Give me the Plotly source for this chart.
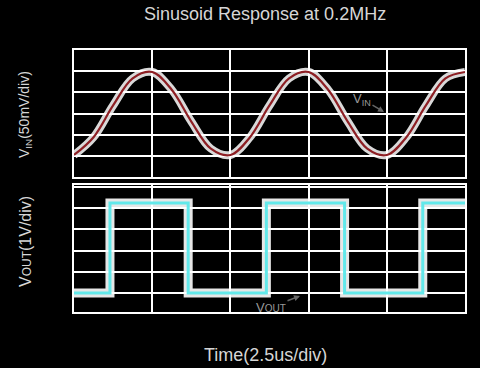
import plotly.graph_objects as go

# Data
t_in = [0, 0.625, 1.25, 1.875, 2.5, 3.125, 3.75, 4.375, 5, 5.625, 6.25, 6.875,
        7.5, 8.125, 8.75, 9.375, 10, 10.625, 11.25, 11.875, 12.5]
v_in = [-98, -56, 19, 83, 98, 56, -19, -83, -98, -56, 19, 83,
        98, 56, -19, -83, -98, -56, 19, 83, 98]  # mV

t_out = [0, 1.15, 3.65, 6.15, 8.65, 11.15, 12.5]
v_out = [0, 4.25, 0, 4.25, 0, 4.25, 4.25]  # V

title = "Sinusoid Response at 0.2MHz"
xlabel = "Time(2.5us/div)"
ylabel_top = "V<sub>IN</sub>(50mV/div)"
ylabel_bot = "V<span style='font-size:12px'>OUT</span>(1V/div)"

W, H = 480, 368
def px(x): return x / W
def py(y): return 1 - y / H

FAM = "Liberation Sans, Arial"
TXT = "#d6d6d6"

fig = go.Figure()
fig.add_trace(go.Scatter(x=t_in, y=v_in, mode="lines", line=dict(color="rgba(255,255,255,0.85)", width=8, shape="spline"),
                         xaxis="x", yaxis="y", hoverinfo="skip", showlegend=False))
fig.add_trace(go.Scatter(x=t_in, y=v_in, mode="lines", line=dict(color="#8e1f24", width=2.2, shape="spline"),
                         xaxis="x", yaxis="y", showlegend=False))
fig.add_trace(go.Scatter(x=t_out, y=v_out, mode="lines", line=dict(color="rgba(255,255,255,0.9)", width=9, shape="hv"),
                         xaxis="x2", yaxis="y2", hoverinfo="skip", showlegend=False))
fig.add_trace(go.Scatter(x=t_out, y=v_out, mode="lines", line=dict(color="#62e8ea", width=3, shape="hv"),
                         xaxis="x2", yaxis="y2", showlegend=False))

xd = [px(74), px(465)]
axcommon = dict(showticklabels=False, ticks="", showgrid=True, gridcolor="#ffffff", gridwidth=1.5,
                showline=True, linecolor="#ffffff", linewidth=2, mirror=True, zeroline=False)
fig.update_layout(
    width=W, height=H, margin=dict(l=0, r=0, t=0, b=0),
    paper_bgcolor="#000", plot_bgcolor="#000",
    xaxis=dict(domain=xd, range=[0, 12.5], dtick=2.5, anchor="y", **axcommon),
    yaxis=dict(domain=[py(177), py(50)], range=[-150, 150], dtick=50, anchor="x", **axcommon),
    xaxis2=dict(domain=xd, range=[0, 12.5], dtick=2.5, anchor="y2", **axcommon),
    yaxis2=dict(domain=[py(312), py(185)], range=[-0.9, 5.1], dtick=1, anchor="x2", **axcommon),
    showlegend=False,
)

ann = [
    dict(text=title, x=px(265), y=py(14), font=dict(size=18, family=FAM, color=TXT)),
    dict(text=xlabel, x=px(265), y=py(355), font=dict(size=18, family=FAM, color=TXT)),
    dict(text=ylabel_top, x=px(25), y=py(115), textangle=-90, font=dict(size=14, family=FAM, color=TXT)),
    dict(text=ylabel_bot, x=px(25), y=py(242), textangle=-90, font=dict(size=16, family=FAM, color=TXT)),
]
for a in ann:
    fig.add_annotation(xref="paper", yref="paper", showarrow=False, xanchor="center", yanchor="middle", **a)

# labelled arrows
fig.add_annotation(xref="paper", yref="paper", x=px(384), y=py(112), ax=-22, ay=-13, showarrow=True,
                   arrowhead=2, arrowsize=0.8, arrowwidth=1.5, arrowcolor="#666",
                   text="V<sub>IN</sub>", font=dict(size=13, family=FAM, color="#9a9a9a"))
fig.add_annotation(xref="paper", yref="paper", x=px(300), y=py(296), ax=-29, ay=11, showarrow=True,
                   arrowhead=2, arrowsize=0.8, arrowwidth=1.5, arrowcolor="#666",
                   text="V<span style='font-size:10px'>OUT</span>", font=dict(size=13, family=FAM, color="#9a9a9a"))

fig.write_html("out.html")
